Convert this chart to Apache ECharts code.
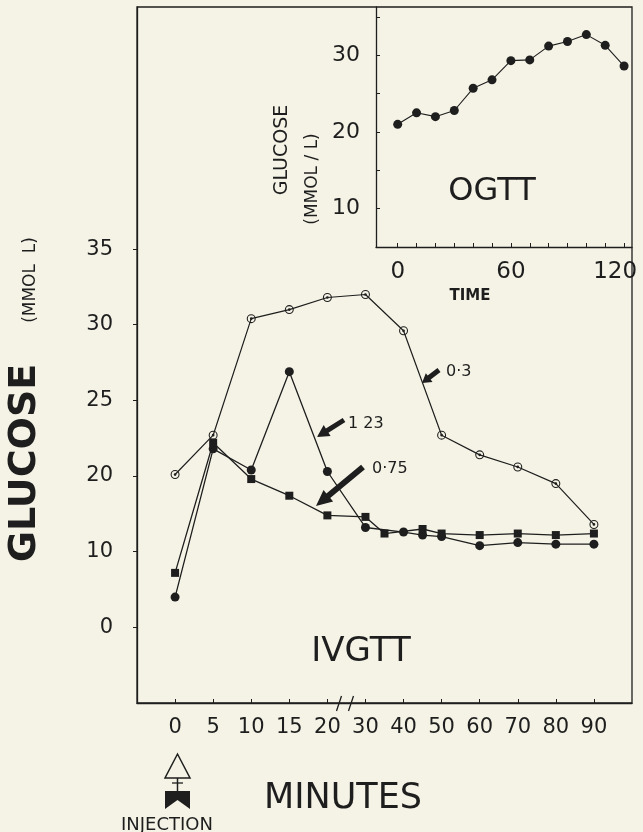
<!DOCTYPE html>
<html>
<head>
<meta charset="utf-8">
<script src="https://cdn.jsdelivr.net/npm/echarts@6/dist/echarts.min.js"></script>
<style>
html,body{margin:0;padding:0;background:#f5f3e6;}
#c{width:643px;height:832px;}
</style>
</head>
<body>
<div id="c"></div>
<script>
// ---------- DATA ----------
// IVGTT (main panel) – minutes after injection
const openMinutes   = [0,5,10,15,20,30,40,50,60,70,80,90];
const openValues    = [20.1,22.7,30.4,31.0,31.8,32.0,29.6,22.7,21.4,20.6,19.5,16.8];   // 0·3
const filledMinutes = [0,5,10,15,20,30,40,45,50,60,70,80,90];
const filledValues  = [12.0,21.8,20.4,26.9,20.3,16.6,16.3,16.1,16.0,15.4,15.6,15.5,15.5]; // 1·23
const squareMinutes = [0,5,10,15,20,30,35,45,50,60,70,80,90];
const squareValues  = [13.6,22.2,19.8,18.7,17.4,17.3,16.2,16.5,16.2,16.1,16.2,16.1,16.2]; // 0·75

// OGTT (inset)
const ogttMinutes = [0,10,20,30,40,50,60,70,80,90,100,110,120];
const ogttValues  = [21.0,22.5,22.0,22.8,25.7,26.8,29.3,29.4,31.2,31.8,32.7,31.3,28.6];

// Tick labels
const xTickLabels  = ['0','5','10','15','20','30','40','50','60','70','80','90'];
const yTickValues  = [10,15,20,25,30,35];
const yTickLabels  = ['0','10','20','25','30','35'];   // as printed on the original
const insetYTicks  = [10,15,20,25,30,35];
const insetYLabels = [10,20,30];
const insetXTicks  = [0,10,20,30,40,50,60,70,80,90,100,110,120];
const insetXLabels = [0,60,120];

// broken time axis: 0-20 in 5-min steps, 30-90 in 10-min steps
function pos(m){ return m <= 20 ? m/5 : 5 + (m-30)/10; }
const xPositions = xTickLabels.map((_, i) => i);

const INK = '#1e1e1e';
const FONT = 'DejaVu Sans';
const ringDot = 'path://M0,-10A10,10 0 1,1 0,10A10,10 0 1,1 0,-10Z M0,-7.6A7.6,7.6 0 1,0 0,7.6A7.6,7.6 0 1,0 0,-7.6Z M0,-3A3,3 0 1,1 0,3A3,3 0 1,1 0,-3Z';

function arrow(tx,ty,sx,sy,headLen,headW,shaftW){
  const dx=tx-sx, dy=ty-sy, L=Math.hypot(dx,dy);
  const ux=dx/L, uy=dy/L, nx=-uy, ny=ux;
  const bx=tx-ux*headLen, by=ty-uy*headLen;
  const p=[
    [sx+nx*shaftW/2, sy+ny*shaftW/2],
    [bx+nx*shaftW/2, by+ny*shaftW/2],
    [bx+nx*headW/2, by+ny*headW/2],
    [tx,ty],
    [bx-nx*headW/2, by-ny*headW/2],
    [bx-nx*shaftW/2, by-ny*shaftW/2],
    [sx-nx*shaftW/2, sy-ny*shaftW/2]
  ];
  return {type:'polygon', shape:{points:p}, style:{fill:INK}, z:100};
}
function txt(x,y,s,size,opts){
  return Object.assign({type:'text', x:x, y:y, z:100,
    style:Object.assign({text:s, font:(opts&&opts.weight||'normal')+' '+size+'px "'+FONT+'"', fill:INK,
      align:'center', verticalAlign:'middle'}, opts&&opts.style)}, opts&&opts.el);
}

const chart = echarts.init(document.getElementById('c'), null, {renderer:'canvas'});

const axisLineStyle = {color:INK, width:1.3};

const option = {
  backgroundColor:'#f5f3e6',
  animation:false,
  grid:[
    {left:137, top:7, width:495, height:696, show:true, borderColor:INK, borderWidth:1.3, backgroundColor:'transparent'},
    {left:376, top:7, width:256, height:240, show:false}
  ],
  xAxis:[
    {type:'value', gridIndex:0, min:-1, max:12,
     axisLine:{show:true, onZero:false, lineStyle:axisLineStyle},
     axisTick:{show:true, inside:true, length:4, customValues:xPositions, lineStyle:{color:INK}},
     axisLabel:{customValues:xPositions, formatter:v=>xTickLabels[Math.round(v)], margin:14,
       fontSize:21, fontFamily:FONT, color:INK},
     splitLine:{show:false}},
    {type:'value', gridIndex:1, min:-11.5, max:124.2,
     axisLine:{show:true, onZero:false, lineStyle:axisLineStyle},
     axisTick:{show:true, inside:true, length:4, customValues:insetXTicks, lineStyle:{color:INK}},
     axisLabel:{customValues:insetXLabels, margin:14, fontSize:23, fontFamily:FONT, color:INK,
       formatter:v=> v===120 ? '{r|120}' : String(v),
       rich:{r:{fontSize:23, fontFamily:FONT, color:INK, padding:[0,18,0,0]}}},
     splitLine:{show:false}}
  ],
  yAxis:[
    {type:'value', gridIndex:0, min:5, max:51,
     axisLine:{show:true, onZero:false, lineStyle:axisLineStyle},
     axisTick:{show:true, inside:false, length:4, customValues:yTickValues, lineStyle:{color:INK}},
     axisLabel:{customValues:yTickValues, formatter:v=>yTickLabels[yTickValues.indexOf(v)], margin:24,
       fontSize:21, fontFamily:FONT, color:INK},
     splitLine:{show:false}},
    {type:'value', gridIndex:1, min:5, max:36.3,
     axisLine:{show:true, onZero:false, lineStyle:axisLineStyle},
     axisTick:{show:true, inside:true, length:4, customValues:insetYTicks, lineStyle:{color:INK}},
     axisLabel:{customValues:insetYLabels, margin:16, fontSize:22, fontFamily:FONT, color:INK},
     splitLine:{show:false}}
  ],
  series:[
    {name:'0·3', type:'line', xAxisIndex:0, yAxisIndex:0,
     data:openMinutes.map((m,i)=>[pos(m), openValues[i]]),
     symbol:ringDot, symbolSize:9, showAllSymbol:true,
     itemStyle:{color:INK}, lineStyle:{color:INK, width:1.2}, z:3},
    {name:'1·23', type:'line', xAxisIndex:0, yAxisIndex:0,
     data:filledMinutes.map((m,i)=>[pos(m), filledValues[i]]),
     symbol:'circle', symbolSize:9, showAllSymbol:true,
     itemStyle:{color:INK}, lineStyle:{color:INK, width:1.3}, z:4},
    {name:'0·75', type:'line', xAxisIndex:0, yAxisIndex:0,
     data:squareMinutes.map((m,i)=>[pos(m), squareValues[i]]),
     symbol:'rect', symbolSize:8, showAllSymbol:true,
     itemStyle:{color:INK}, lineStyle:{color:INK, width:1.3}, z:4},
    {name:'OGTT', type:'line', xAxisIndex:1, yAxisIndex:1,
     data:ogttMinutes.map((m,i)=>[m, ogttValues[i]]),
     symbol:'circle', symbolSize:9, showAllSymbol:true,
     itemStyle:{color:INK}, lineStyle:{color:INK, width:1.1}, z:4}
  ],
  graphic:[
    // main y-axis title
    txt(25, 463, 'GLUCOSE', 38, {weight:'bold', el:{rotation:Math.PI/2}}),
    txt(31, 280, '(MMOL  L)', 17, {el:{rotation:Math.PI/2}}),
    // inset y-axis title
    txt(282, 150, 'GLUCOSE', 19, {el:{rotation:Math.PI/2}}),
    txt(313, 179, '(MMOL / L)', 17, {el:{rotation:Math.PI/2}}),
    // panel labels
    txt(492, 192, 'OGTT', 32),
    txt(470, 296, 'TIME', 15, {weight:'bold'}),
    txt(361, 652, 'IVGTT', 34),
    txt(343, 799, 'MINUTES', 35),
    txt(167, 825, 'INJECTION', 18),
    // annotations
    arrow(422,383,439,370,9,11,5),
    txt(446, 372, '0·3', 16, {style:{align:'left'}}),
    arrow(317,437,344,420,12,13,5),
    txt(348, 424, '1 23', 16, {style:{align:'left'}}),
    arrow(316,506,363,467,16,15,6),
    txt(372, 469, '0·75', 16, {style:{align:'left'}}),
    // axis break marks
    {type:'line', shape:{x1:336.5,y1:711,x2:341.5,y2:696}, style:{stroke:INK, lineWidth:1.3}, z:100},
    {type:'line', shape:{x1:348.5,y1:711,x2:353.5,y2:696}, style:{stroke:INK, lineWidth:1.3}, z:100},
    // injection symbol
    {type:'polygon', shape:{points:[[177.5,754],[190,778],[165,778]]}, style:{fill:'none', stroke:INK, lineWidth:1.5}, z:100},
    {type:'line', shape:{x1:177.5,y1:778,x2:177.5,y2:791}, style:{stroke:INK, lineWidth:1.5}, z:100},
    {type:'line', shape:{x1:172,y1:783,x2:183,y2:783}, style:{stroke:INK, lineWidth:1.3}, z:100},
    {type:'polygon', shape:{points:[[165,791],[190,791],[190,809],[177.5,800],[165,809]]}, style:{fill:INK}, z:100}
  ]
};
chart.setOption(option);
</script>
</body>
</html>
